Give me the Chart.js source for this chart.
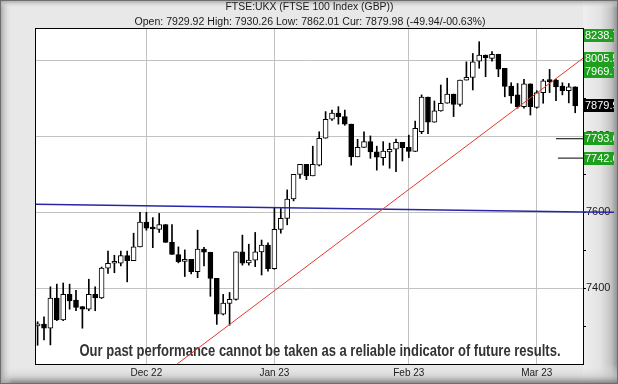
<!DOCTYPE html>
<html>
<head>
<meta charset="utf-8">
<title>FTSE:UKX</title>
<script src="https://cdn.jsdelivr.net/npm/chart.js@4"></script>
<style>
  html, body { margin: 0; padding: 0; background: #e6e6e6; }
  #wrap { width: 618px; height: 384px; }
</style>
</head>
<body>
<div id="wrap"><canvas id="ftseChart" width="618" height="384"></canvas></div>
<script>
// trading days shown, 8 Nov 2022 -> 9 Mar 2023
const days = [
  '2022-11-08','2022-11-09','2022-11-10','2022-11-11','2022-11-14','2022-11-15','2022-11-16','2022-11-17','2022-11-18',
  '2022-11-21','2022-11-22','2022-11-23','2022-11-24','2022-11-25','2022-11-28','2022-11-29','2022-11-30',
  '2022-12-01','2022-12-02','2022-12-05','2022-12-06','2022-12-07','2022-12-08','2022-12-09','2022-12-12','2022-12-13',
  '2022-12-14','2022-12-15','2022-12-16','2022-12-19','2022-12-20','2022-12-21','2022-12-22','2022-12-23','2022-12-28',
  '2022-12-29','2022-12-30',
  '2023-01-03','2023-01-04','2023-01-05','2023-01-06','2023-01-09','2023-01-10','2023-01-11','2023-01-12','2023-01-13',
  '2023-01-16','2023-01-17','2023-01-18','2023-01-19','2023-01-20','2023-01-23','2023-01-24','2023-01-25','2023-01-26',
  '2023-01-27','2023-01-30','2023-01-31',
  '2023-02-01','2023-02-02','2023-02-03','2023-02-06','2023-02-07','2023-02-08','2023-02-09','2023-02-10','2023-02-13',
  '2023-02-14','2023-02-15','2023-02-16','2023-02-17','2023-02-20','2023-02-21','2023-02-22','2023-02-23','2023-02-24',
  '2023-02-27','2023-02-28',
  '2023-03-01','2023-03-02','2023-03-03','2023-03-06','2023-03-07','2023-03-08','2023-03-09'
];

const opens = [
  7301, 7306, 7295, 7374, 7317, 7384, 7369, 7352, 7345, 7384, 7375, 7453, 7466, 7466, 7486, 7473, 7509,
  7574, 7559, 7555, 7568, 7521, 7489, 7471, 7476, 7444, 7503, 7495, 7426, 7332, 7360, 7371, 7496, 7467, 7474, 7496, 7514,
  7452, 7555, 7584, 7635, 7700, 7726, 7696, 7724, 7795, 7845, 7861, 7852, 7832, 7746, 7771, 7786, 7759, 7744, 7759, 7766, 7784,
  7771, 7760, 7812, 7903, 7837, 7867, 7887, 7911, 7884, 7948, 7955, 7998, 8014, 8005, 8016, 7979, 7932, 7909, 7878, 7938,
  7876, 7915, 7948, 7948, 7932, 7920, 7929.92
];
const highs = [
  7312, 7325, 7404, 7411, 7414, 7411, 7395, 7352, 7424, 7404, 7456, 7498, 7487, 7498, 7498, 7545, 7600,
  7600, 7586, 7597, 7568, 7568, 7509, 7501, 7476, 7553, 7508, 7495, 7426, 7384, 7389, 7496, 7540, 7516, 7547, 7527, 7520,
  7612, 7610, 7659, 7700, 7726, 7726, 7774, 7812, 7865, 7869, 7878, 7869, 7832, 7792, 7812, 7801, 7774, 7786, 7782, 7793, 7784,
  7803, 7840, 7909, 7903, 7893, 7935, 7953, 7911, 7948, 7996, 8018, 8049, 8014, 8023, 8016, 7979, 7941, 7939, 7950, 7938,
  7920, 7950, 7976, 7950, 7941, 7939, 7930.26
];
const lows = [
  7250, 7264, 7251, 7315, 7315, 7345, 7341, 7295, 7341, 7341, 7373, 7439, 7441, 7459, 7417, 7473, 7509,
  7553, 7507, 7547, 7521, 7489, 7467, 7431, 7438, 7428, 7459, 7379, 7305, 7330, 7303, 7369, 7461, 7461, 7457, 7435, 7445,
  7450, 7545, 7567, 7630, 7689, 7686, 7696, 7722, 7795, 7842, 7832, 7829, 7724, 7746, 7771, 7742, 7711, 7724, 7716, 7707, 7735,
  7744, 7760, 7807, 7807, 7837, 7866, 7887, 7852, 7879, 7948, 7922, 7979, 7957, 7998, 7957, 7904, 7887, 7874, 7874, 7856,
  7874, 7887, 7915, 7894, 7909, 7888, 7862.01
];
const closes = [
  7305, 7295, 7374, 7317, 7384, 7367, 7350, 7345, 7384, 7375, 7453, 7466, 7467, 7486, 7473, 7509, 7574,
  7558, 7556, 7568, 7521, 7489, 7470, 7476, 7444, 7503, 7495, 7426, 7332, 7361, 7371, 7496, 7466, 7474, 7496, 7514, 7452,
  7555, 7584, 7635, 7700, 7726, 7696, 7726, 7795, 7845, 7861, 7852, 7832, 7746, 7771, 7786, 7759, 7745, 7761, 7766, 7784, 7770,
  7760, 7821, 7903, 7837, 7867, 7887, 7911, 7884, 7948, 7955, 7996, 8014, 8007, 8016, 7977, 7931, 7906, 7878, 7938, 7878,
  7915, 7946, 7944, 7930, 7920, 7930, 7879.98
];

// right hand axis
const yTicks = [7300, 7400, 7500, 7600, 7700, 7800, 7900, 8000];
const yMin = 7200.8;
const yMax = 8082.4;

// level markers on the right edge
const markerLevels = [8238.7, 8005.5, 7969.7, 7879.9, 7793.6, 7742.6];
const currentLevel = 7879.9;

// trend lines (x = trading day index)
const redTrendX = [21.8, 85.22];
const redTrendY = [7200.8, 8005.5];
const blueTrendX = [-0.25, 90.7];   // blue one runs on across the price scale
const blueTrendY = [7621, 7599.7];

// short target stubs
const targetFrom = [81.0, 81.3];
const targetLevels = [7793.6, 7742.6];

const titleText = 'FTSE:UKX (FTSE 100 Index (GBP))';
const quoteText = 'Open: 7929.92 High: 7930.26 Low: 7862.01 Cur: 7879.98 (-49.94/-00.63%)';
const disclaimer = 'Our past performance cannot be taken as a reliable indicator of future results.';

// month ticks = first trading day of each month
const monNames = ['Jan','Feb','Mar','Apr','May','Jun','Jul','Aug','Sep','Oct','Nov','Dec'];
const monthIdx = [];
const monthLabels = [];
days.forEach((d, i) => {
  if (i > 0 && d.slice(5, 7) !== days[i - 1].slice(5, 7)) {
    monthIdx.push(i);
    monthLabels.push(monNames[+d.slice(5, 7) - 1] + ' ' + d.slice(2, 4));
  }
});

// draw text squeezed/stretched to a given width
function fitText(ctx, text, cx, cy, w) {
  const m = ctx.measureText(text).width;
  ctx.save();
  ctx.translate(cx, cy);
  ctx.scale(w / m, 1);
  ctx.textAlign = 'center';
  ctx.textBaseline = 'middle';
  ctx.fillText(text, 0, 0);
  ctx.restore();
}

const framePlugin = {
  id: 'framePlugin',
  beforeDraw(chart) {
    const { ctx, width, height, chartArea: a } = chart;
    ctx.save();
    ctx.fillStyle = '#e8e8e8';
    ctx.fillRect(0, 0, width, height);

    // bevel on the right and bottom
    let g = ctx.createLinearGradient(a.right, 0, width, 0);
    g.addColorStop(0, '#efefef');
    g.addColorStop(0.5, '#e2e2e2');
    g.addColorStop(0.8, '#c4c4c4');
    g.addColorStop(1, '#8c8c8c');
    ctx.fillStyle = g;
    ctx.fillRect(a.right, 0, width - a.right, height);

    g = ctx.createLinearGradient(0, a.bottom, 0, height);
    g.addColorStop(0, 'rgba(239,239,239,0)');
    g.addColorStop(0.6, 'rgba(200,200,200,0.6)');
    g.addColorStop(1, 'rgba(120,120,120,1)');
    ctx.fillStyle = g;
    ctx.fillRect(0, a.bottom, width, height - a.bottom);

    g = ctx.createLinearGradient(0, 0, 12, 0);
    g.addColorStop(0, '#a0a0a0');
    g.addColorStop(1, 'rgba(232,232,232,0)');
    ctx.fillStyle = g;
    ctx.fillRect(0, 0, 12, height);

    g = ctx.createLinearGradient(0, 0, 0, 8);
    g.addColorStop(0, '#a0a0a0');
    g.addColorStop(1, 'rgba(232,232,232,0)');
    ctx.fillStyle = g;
    ctx.fillRect(0, 0, width, 8);

    ctx.strokeStyle = '#6e6e6e';
    ctx.lineWidth = 1;
    ctx.strokeRect(0.5, 0.5, width - 1, height - 1);

    // plot area
    ctx.fillStyle = '#ffffff';
    ctx.fillRect(a.left, a.top, a.right - a.left, a.bottom - a.top);

    // titles
    ctx.fillStyle = '#1a1a1a';
    ctx.font = '10px "Liberation Sans", Arial, sans-serif';
    fitText(ctx, titleText, 309.5, 7.5, 168);
    fitText(ctx, quoteText, 310, 22.5, 351);
    ctx.restore();
  },
  beforeDatasetsDraw(chart) {
    const { ctx } = chart;
    ctx.save();
    ctx.fillStyle = '#333333';
    ctx.font = 'bold 16px "Liberation Sans", Arial, sans-serif';
    fitText(ctx, disclaimer, 320, 352, 481);
    ctx.restore();
  },
  afterDraw(chart) {
    const { ctx, chartArea: a, width, height } = chart;
    const xs = chart.scales.x;
    const ys = chart.scales.y;
    ctx.save();

    // black border round the plot
    ctx.strokeStyle = '#000';
    ctx.lineWidth = 1;
    ctx.strokeRect(a.left - 0.5, a.top - 0.5, a.right - a.left + 1, a.bottom - a.top + 1);

    // blue trend carries on through the price scale
    ctx.save();
    ctx.beginPath();
    ctx.rect(a.right, 0, width - 4 - a.right, height);
    ctx.clip();
    ctx.strokeStyle = '#2626a6';
    ctx.lineWidth = 1.5;
    ctx.beginPath();
    ctx.moveTo(xs.getPixelForValue(blueTrendX[0]), ys.getPixelForValue(blueTrendY[0]));
    ctx.lineTo(xs.getPixelForValue(blueTrendX[1]), ys.getPixelForValue(blueTrendY[1]));
    ctx.stroke();
    ctx.restore();

    // level boxes
    ctx.beginPath();
    ctx.rect(a.right, 0, width - 4 - a.right, height);
    ctx.clip();
    ctx.font = '11px "Liberation Sans", Arial, sans-serif';
    ctx.textBaseline = 'middle';
    ctx.textAlign = 'left';
    markerLevels.forEach(v => {
      let y = ys.getPixelForValue(v);
      y = Math.max(a.top + 6, Math.min(a.bottom - 6, y));
      ctx.fillStyle = v === currentLevel ? '#000000' : '#1e9f1e';
      ctx.fillRect(a.right + 1, Math.round(y - 6.5), 31, 13);
      ctx.fillStyle = '#ffffff';
      ctx.fillText(v.toFixed(1), a.right + 2, y + 0.5);
    });
    ctx.restore();
  }
};

const lineStyle = { type: 'line', pointRadius: 0, borderWidth: 1, tension: 0, fill: false };

const ftseChart = new Chart(document.getElementById('ftseChart'), {
  type: 'bar',
  data: {
    datasets: [
      {
        label: 'wick',
        data: days.map((d, i) => ({ x: i, y: [lows[i], highs[i]] })),
        backgroundColor: '#000',
        barThickness: 1,
        grouped: false,
        order: 3
      },
      {
        label: 'body',
        data: days.map((d, i) => ({ x: i, y: [opens[i], closes[i]] })),
        backgroundColor: ctx => closes[ctx.dataIndex] >= opens[ctx.dataIndex] ? '#fff' : '#000',
        borderColor: '#000',
        borderWidth: 1,
        borderSkipped: false,
        barThickness: 5,
        minBarLength: 2,
        grouped: false,
        order: 2
      },
      {
        ...lineStyle, label: 'blue',
        data: blueTrendX.map((x, i) => ({ x, y: blueTrendY[i] })),
        borderColor: '#2626a6', borderWidth: 1.5, order: 1
      },
      {
        ...lineStyle, label: 'red',
        data: redTrendX.map((x, i) => ({ x, y: redTrendY[i] })),
        borderColor: '#e5392b', order: 0
      },
      ...targetLevels.map((v, k) => ({
        ...lineStyle, label: 'target ' + v,
        data: [{ x: targetFrom[k], y: v }, { x: redTrendX[1], y: v }],
        borderColor: '#000', order: 0
      }))
    ]
  },
  options: {
    responsive: false,
    animation: false,
    layout: { padding: { left: 36, top: 29, right: 0, bottom: 0 } },
    plugins: {
      legend: { display: false },
      tooltip: { enabled: false }
    },
    scales: {
      x: {
        type: 'linear',
        min: -0.25,
        max: 85.22,
        offset: false,
        afterFit(s) { s.height = 20; },
        afterBuildTicks(s) { s.ticks = monthIdx.map(v => ({ value: v })); },
        ticks: {
          autoSkip: false,
          maxRotation: 0,
          padding: 3,
          color: '#1a1a1a',
          font: { size: 10, family: '"Liberation Sans", Arial, sans-serif' },
          callback: (v, i) => monthLabels[i]
        },
        grid: { color: '#c2c2c2', drawTicks: false, offset: false },
        border: { color: '#000' }
      },
      y: {
        position: 'right',
        min: yMin,
        max: yMax,
        afterFit(s) { s.width = 35; },
        afterBuildTicks(s) { s.ticks = yTicks.map(v => ({ value: v })); },
        ticks: {
          padding: 0,
          color: '#1a1a1a',
          font: { size: 11, family: '"Liberation Sans", Arial, sans-serif' },
          callback: v => (v % 200 === 0 ? String(v) : '')
        },
        grid: {
          color: ctx => (ctx.tick && ctx.tick.value % 200 === 0 ? '#c2c2c2' : 'rgba(0,0,0,0)'),
          tickColor: '#000',
          tickLength: 3
        },
        border: { color: '#000' }
      }
    }
  },
  plugins: [framePlugin]
});
</script>
</body>
</html>
